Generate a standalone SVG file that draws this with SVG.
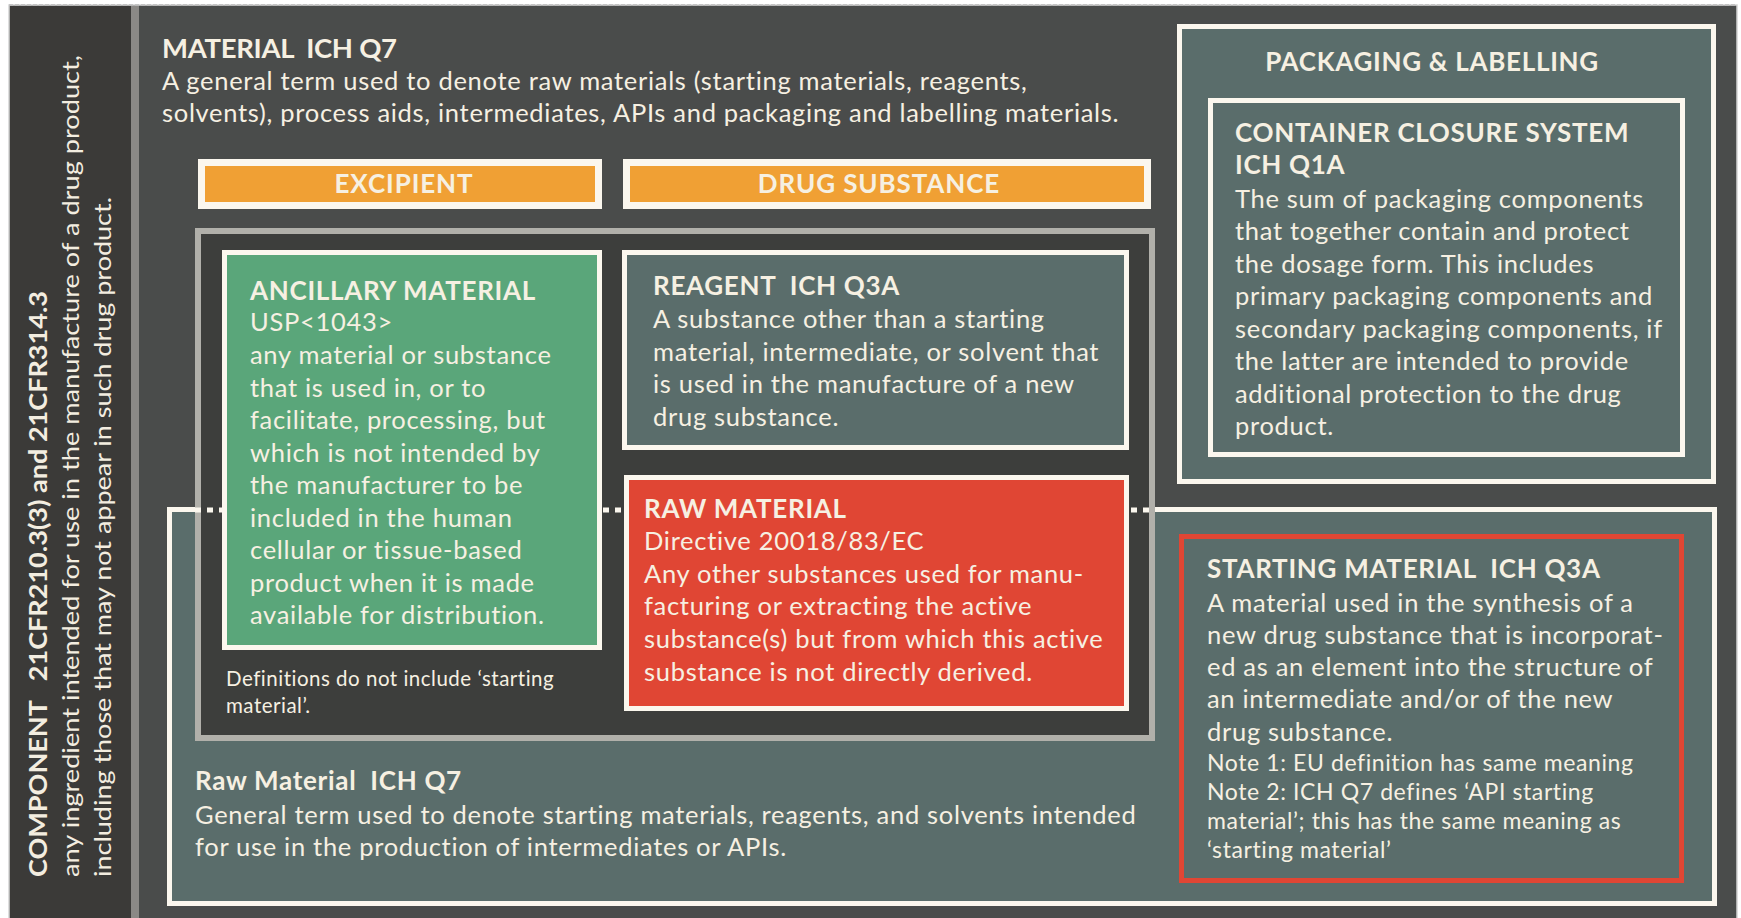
<svg xmlns="http://www.w3.org/2000/svg" width="1741" height="918" viewBox="0 0 1741 918">
<style>
  .t{font-family:Lato,"Liberation Sans",sans-serif;fill:#f6f0e2}
  .b{font-weight:bold}
  .body{font-size:25.5px;letter-spacing:0.7px}
  .ttl{font-size:26px;font-weight:bold;letter-spacing:0.7px}
  .note{font-size:23px;letter-spacing:0.6px}
  .small{font-size:20.5px;letter-spacing:0.5px}
  .side{font-family:Lato,"DejaVu Sans",sans-serif;fill:#f3ede0}
  .wb{stroke:#fbf7ee;stroke-width:5}
  .slate{fill:#5a6d6b}
</style>
<rect x="0" y="0" width="1741" height="918" fill="#ffffff"/>
<g id="frame">
  <rect x="9" y="5" width="1728" height="915" fill="#4a4c4b" stroke="#d4d4d4" stroke-width="1.5"/>
  <line x1="9" y1="5" x2="1737" y2="5" stroke="#bdbdbd" stroke-width="1.5" stroke-dasharray="4 2"/>
</g>
<g id="component">
  <rect x="10" y="6" width="121" height="912" fill="#3b3a38"/>
  <rect x="131" y="6" width="8" height="912" fill="#8b8986"/>
  <text class="side b" font-size="25" transform="translate(47,877) rotate(-90)" xml:space="preserve" textLength="586" lengthAdjust="spacingAndGlyphs">COMPONENT   21CFR210.3(3) and 21CFR314.3</text>
  <text class="side" font-size="23.5" transform="translate(79,877) rotate(-90)" textLength="822" lengthAdjust="spacingAndGlyphs">any ingredient intended for use in the manufacture of a drug product,</text>
  <text class="side" font-size="23.5" transform="translate(111,877) rotate(-90)" textLength="680" lengthAdjust="spacingAndGlyphs">including those that may not appear in such drug product.</text>
</g>
<g id="material">
  <text class="t b" x="162" y="58" font-size="27.5" xml:space="preserve" textLength="235" lengthAdjust="spacing">MATERIAL  ICH Q7</text>
  <text class="t body" x="162" y="90">A general term used to denote raw materials (starting materials, reagents,</text>
  <text class="t body" x="162" y="122">solvents), process aids, intermediates, APIs and packaging and labelling materials.</text>
</g>
<g id="raw-material-q7">
  <rect x="169.5" y="509.5" width="1545" height="394" class="slate wb"/>
  <text class="t ttl" x="195" y="790" xml:space="preserve">Raw Material  ICH Q7</text>
  <text class="t body" x="195" y="824">General term used to denote starting materials, reagents, and solvents intended</text>
  <text class="t body" x="195" y="856">for use in the production of intermediates or APIs.</text>
</g>
<g id="group">
  <rect x="198" y="231" width="954" height="507" fill="#3d3e3c" stroke="#b1b0aa" stroke-width="6"/>
  <text class="t small" x="226" y="686">Definitions do not include ‘starting</text>
  <text class="t small" x="226" y="713">material’.</text>
</g>
<g id="connectors">
  <line x1="195" y1="510" x2="1155" y2="510" stroke="#fbf7ee" stroke-width="5" stroke-dasharray="6 6"/>
</g>
<g id="excipient">
  <rect x="201.5" y="162.5" width="397" height="43" fill="#f0a034" stroke="#fbf7ee" stroke-width="7"/>
  <text class="t b" x="404" y="193" font-size="26" letter-spacing="0.9" text-anchor="middle">EXCIPIENT</text>
</g>
<g id="drug-substance">
  <rect x="626.5" y="162.5" width="521" height="43" fill="#f0a034" stroke="#fbf7ee" stroke-width="7"/>
  <text class="t b" x="879" y="193" font-size="26" letter-spacing="0.9" text-anchor="middle">DRUG SUBSTANCE</text>
</g>
<g id="ancillary">
  <rect x="224.5" y="252.5" width="375" height="395" fill="#5aa67a" class="wb"/>
  <text class="t ttl" x="250" y="300">ANCILLARY MATERIAL</text>
  <text class="t body" x="250" y="331">USP&lt;1043&gt;</text>
  <text class="t body" x="250" y="364">any material or substance</text>
  <text class="t body" x="250" y="397">that is used in, or to</text>
  <text class="t body" x="250" y="429">facilitate, processing, but</text>
  <text class="t body" x="250" y="462">which is not intended by</text>
  <text class="t body" x="250" y="494">the manufacturer to be</text>
  <text class="t body" x="250" y="527">included in the human</text>
  <text class="t body" x="250" y="559">cellular or tissue-based</text>
  <text class="t body" x="250" y="592">product when it is made</text>
  <text class="t body" x="250" y="624">available for distribution.</text>
</g>
<g id="reagent">
  <rect x="624.5" y="252.5" width="502" height="195" class="slate wb"/>
  <text class="t ttl" x="653" y="295" xml:space="preserve">REAGENT  ICH Q3A</text>
  <text class="t body" x="653" y="328">A substance other than a starting</text>
  <text class="t body" x="653" y="361">material, intermediate, or solvent that</text>
  <text class="t body" x="653" y="393">is used in the manufacture of a new</text>
  <text class="t body" x="653" y="426">drug substance.</text>
</g>
<g id="raw-material">
  <rect x="626.5" y="477.5" width="500" height="231" fill="#e04634" class="wb"/>
  <text class="t ttl" x="644" y="518">RAW MATERIAL</text>
  <text class="t body" x="644" y="550">Directive 20018/83/EC</text>
  <text class="t body" x="644" y="583">Any other substances used for manu-</text>
  <text class="t body" x="644" y="615">facturing or extracting the active</text>
  <text class="t body" x="644" y="648">substance(s) but from which this active</text>
  <text class="t body" x="644" y="681">substance is not directly derived.</text>
</g>
<g id="packaging">
  <rect x="1179.5" y="26.5" width="534" height="455" class="slate wb"/>
  <text class="t ttl" x="1432" y="71" text-anchor="middle">PACKAGING &amp; LABELLING</text>
</g>
<g id="container-closure">
  <rect x="1210.5" y="100.5" width="472" height="354" class="slate wb"/>
  <text class="t ttl" x="1235" y="142">CONTAINER CLOSURE SYSTEM</text>
  <text class="t ttl" x="1235" y="174">ICH Q1A</text>
  <text class="t body" x="1235" y="208">The sum of packaging components</text>
  <text class="t body" x="1235" y="240">that together contain and protect</text>
  <text class="t body" x="1235" y="273">the dosage form. This includes</text>
  <text class="t body" x="1235" y="305">primary packaging components and</text>
  <text class="t body" x="1235" y="338">secondary packaging components, if</text>
  <text class="t body" x="1235" y="370">the latter are intended to provide</text>
  <text class="t body" x="1235" y="403">additional protection to the drug</text>
  <text class="t body" x="1235" y="435">product.</text>
</g>
<g id="starting-material">
  <rect x="1181.5" y="536.5" width="500" height="344" class="slate" stroke="#e04634" stroke-width="5"/>
  <text class="t ttl" x="1207" y="578" xml:space="preserve">STARTING MATERIAL  ICH Q3A</text>
  <text class="t body" x="1207" y="612">A material used in the synthesis of a</text>
  <text class="t body" x="1207" y="644">new drug substance that is incorporat-</text>
  <text class="t body" x="1207" y="676">ed as an element into the structure of</text>
  <text class="t body" x="1207" y="708">an intermediate and/or of the new</text>
  <text class="t body" x="1207" y="741">drug substance.</text>
  <text class="t note" x="1207" y="771">Note 1: EU definition has same meaning</text>
  <text class="t note" x="1207" y="800">Note 2: ICH Q7 defines ‘API starting</text>
  <text class="t note" x="1207" y="829">material’; this has the same meaning as</text>
  <text class="t note" x="1207" y="858">‘starting material’</text>
</g>
</svg>
